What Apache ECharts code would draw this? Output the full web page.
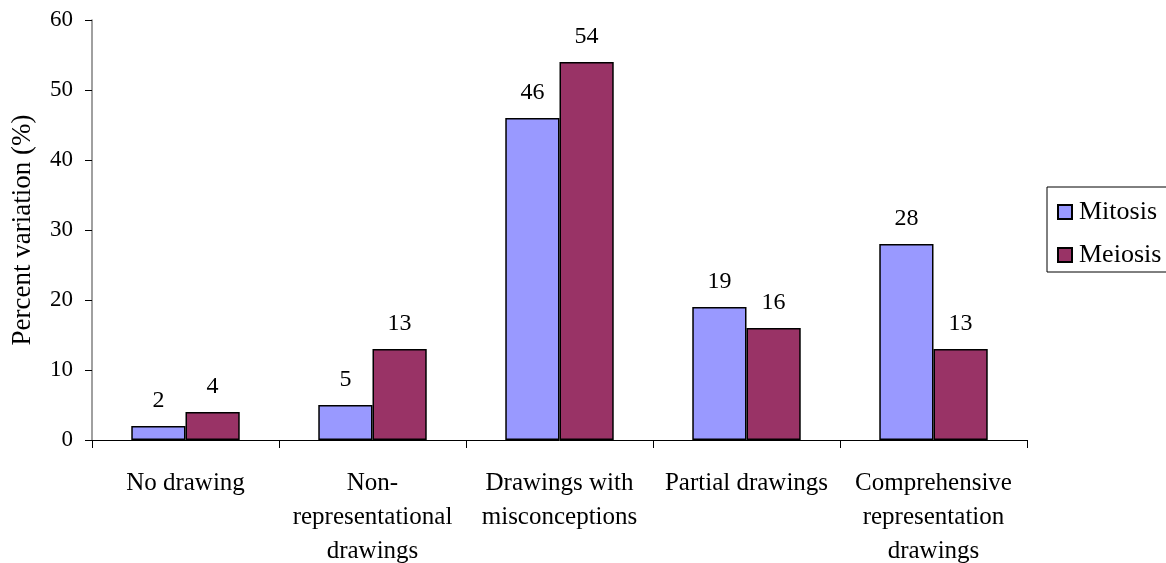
<!DOCTYPE html>
<html>
<head>
<meta charset="utf-8">
<script src="https://cdn.jsdelivr.net/npm/echarts@6/dist/echarts.min.js"></script>
<style>
  html, body { margin: 0; padding: 0; background: #fff; overflow: hidden; }
  #chart { width: 1166px; height: 563px; }
</style>
</head>
<body>
<div id="chart"></div>
<script>
// Drawing categories and the share of students (%) in each, by topic
const categories = [
  'No drawing',
  'Non-\nrepresentational\ndrawings',
  'Drawings with\nmisconceptions',
  'Partial drawings',
  'Comprehensive\nrepresentation\ndrawings'
];
const mitosis = [2, 5, 46, 19, 28];
const meiosis = [4, 13, 54, 16, 13];
const yTicks = { min: 0, max: 60, interval: 10 };

const FONT = '"Liberation Serif", "Times New Roman", serif';

const chart = echarts.init(document.getElementById('chart'), null, { width: 1166, height: 563 });

function barSeries(name, data, color) {
  return {
    name: name,
    type: 'bar',
    data: data,
    barGap: '0%',
    barCategoryGap: '42%',
    itemStyle: { color: color, borderColor: '#000', borderWidth: 1.5 },
    label: {
      show: true,
      position: 'top',
      distance: 13,
      fontFamily: FONT,
      fontSize: 24,
      color: '#000'
    },
    emphasis: { disabled: true }
  };
}

chart.setOption({
  animation: false,
  textStyle: { fontFamily: FONT },
  grid: {
    left: 92, top: 20, width: 935, height: 420,
    containLabel: false,
    outerBoundsMode: 'none'
  },
  legend: {
    orient: 'vertical',
    left: 1047,
    top: 187,
    width: 140,
    padding: [12, 30, 4, 10],
    itemGap: 17,
    itemWidth: 14,
    itemHeight: 14,
    borderColor: '#000',
    borderWidth: 1,
    icon: 'rect',
    textStyle: { fontFamily: FONT, fontSize: 26, color: '#000', padding: [0, 0, 0, 2] },
    data: ['Mitosis', 'Meiosis']
  },
  xAxis: {
    type: 'category',
    data: categories,
    axisLine: { lineStyle: { color: '#000', width: 1 } },
    axisTick: { show: true, length: 8, alignWithLabel: false, lineStyle: { color: '#000' } },
    axisLabel: {
      interval: 0,
      margin: 26,
      fontFamily: FONT,
      fontSize: 25,
      color: '#000',
      lineHeight: 34
    }
  },
  yAxis: {
    type: 'value',
    min: yTicks.min,
    max: yTicks.max,
    interval: yTicks.interval,
    name: 'Percent variation (%)',
    nameLocation: 'middle',
    nameGap: 56,
    nameTextStyle: { fontFamily: FONT, fontSize: 27, color: '#000' },
    splitLine: { show: false },
    axisLine: { show: true, lineStyle: { color: '#808080', width: 1.5 } },
    axisTick: { show: true, length: 7, lineStyle: { color: '#000' } },
    axisLabel: { fontFamily: FONT, fontSize: 23, color: '#000', margin: 19 }
  },
  series: [
    barSeries('Mitosis', mitosis, '#9999FF'),
    barSeries('Meiosis', meiosis, '#993366')
  ]
});
</script>
</body>
</html>
